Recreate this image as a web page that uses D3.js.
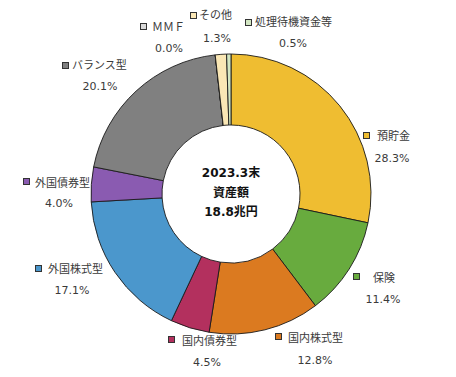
<!DOCTYPE html>
<html lang="ja">
<head>
<meta charset="utf-8">
<title>資産構成</title>
<script src="https://cdn.jsdelivr.net/npm/d3@7"></script>
<style>
  body { margin: 0; background: #fff; }
  .lbl text { font-family: "DejaVu Sans", "Noto Sans CJK JP", sans-serif; font-size: 11px; fill: #3a3a3a; }
  .center text { font-family: "DejaVu Sans", "Noto Sans CJK JP", sans-serif; font-size: 12px; font-weight: bold; fill: #111; }
</style>
</head>
<body>
<script>
// data, clockwise from 12 o'clock
var categories = ["預貯金", "保険", "国内株式型", "国内債券型", "外国株式型", "外国債券型", "バランス型", "ＭＭＦ", "その他", "処理待機資金等"];
var shares = [28.3, 11.4, 12.8, 4.5, 17.1, 4.0, 20.1, 0.0, 1.3, 0.5];
var colors = ["#efbd31", "#68ab3e", "#db7a20", "#b3305e", "#4b97cc", "#8a5bb1", "#808080", "#d9d9d9", "#fae7b5", "#d3e7c3"];
var centerLines = ["2023.3末", "資産額", "18.8兆円"];

// label layout: [box x, box y, name x, name y, pct x (middle), pct y]
var labelPos = [
  [363, 132, 377, 136, 392, 158],
  [353, 273, 373, 278, 383, 299],
  [275, 333, 288, 338, 315, 360],
  [168, 336, 182, 341, 207, 362],
  [35, 265, 48, 269, 72, 290],
  [23, 178, 35, 183, 59, 203],
  [62, 62, 72, 65, 100, 86],
  [140, 23, 152, 27, 169, 48],
  [190, 12, 199, 15, 217, 38],
  [245, 19, 255, 22, 293, 43]
];

var w = 456, h = 377;
var cx = 231, cy = 194;
var rOuter = 140, rInner = 69;

var svg = d3.select("body").append("svg")
  .attr("width", w)
  .attr("height", h);

var data = categories.map(function(c, i) { return { name: c, share: shares[i], color: colors[i], pos: labelPos[i] }; });

var pie = d3.pie().sort(null).value(function(d) { return d.share; });
var arc = d3.arc().innerRadius(rInner).outerRadius(rOuter);

svg.append("g")
  .attr("transform", "translate(" + cx + "," + cy + ")")
  .selectAll("path")
  .data(pie(data))
  .enter()
  .append("path")
  .attr("d", arc)
  .attr("fill", function(d) { return d.data.color; })
  .attr("stroke", "#1a1a1a")
  .attr("stroke-width", 0.9);

// center text
var center = svg.append("g").attr("class", "center");
center.selectAll("text")
  .data(centerLines)
  .enter()
  .append("text")
  .attr("x", cx)
  .attr("y", function(d, i) { return 173 + i * 19.5; })
  .attr("text-anchor", "middle")
  .attr("dominant-baseline", "central")
  .text(function(d) { return d; });

// labels
var lbl = svg.append("g").attr("class", "lbl")
  .selectAll("g")
  .data(data)
  .enter()
  .append("g");

lbl.append("rect")
  .attr("x", function(d) { return d.pos[0] + 0.5; })
  .attr("y", function(d) { return d.pos[1] + 0.5; })
  .attr("width", 6)
  .attr("height", 6)
  .attr("fill", function(d) { return d.color; })
  .attr("stroke", "#333")
  .attr("stroke-width", 1);

lbl.append("text")
  .attr("x", function(d) { return d.pos[2]; })
  .attr("y", function(d) { return d.pos[3]; })
  .attr("dominant-baseline", "central")
  .text(function(d) { return d.name; });

lbl.append("text")
  .attr("x", function(d) { return d.pos[4]; })
  .attr("y", function(d) { return d.pos[5]; })
  .attr("text-anchor", "middle")
  .attr("dominant-baseline", "central")
  .text(function(d) { return d.share.toFixed(1) + "%"; });
</script>
</body>
</html>
